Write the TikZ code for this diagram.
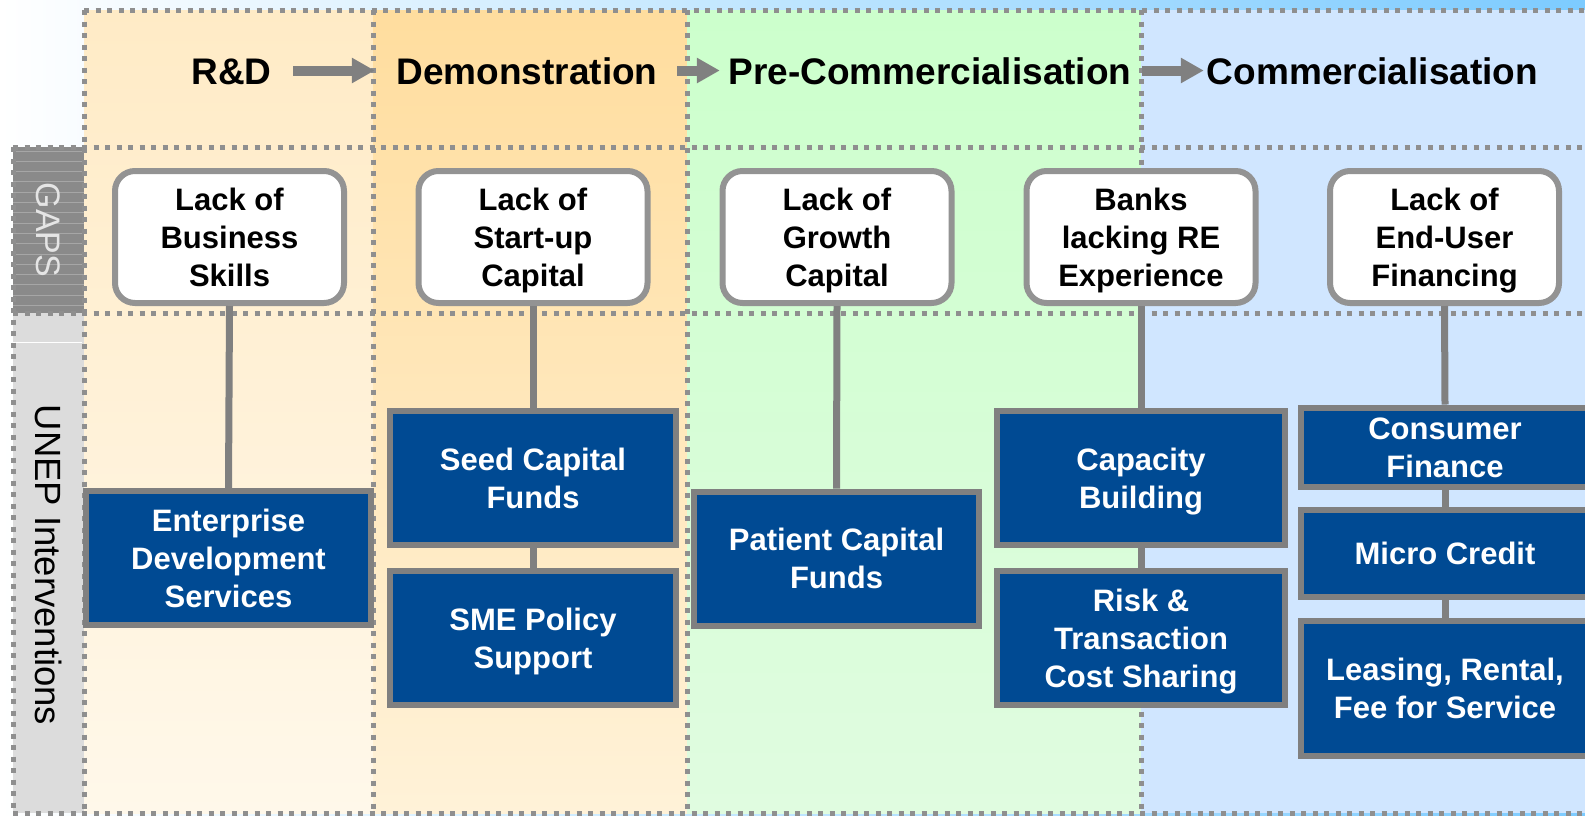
\documentclass[tikz,border=0pt]{standalone}
\usepackage{fontspec}
\setmainfont{Liberation Sans}
\usetikzlibrary{arrows.meta}
\definecolor{dotgray}{HTML}{8F8F8F}
\definecolor{linegray}{HTML}{808080}
\definecolor{gapborder}{HTML}{939393}
\definecolor{intblue}{HTML}{004A93}
\definecolor{bgblue}{HTML}{7CCBFF}
\definecolor{rdtop}{HTML}{FFEBC6}
\definecolor{rdbot}{HTML}{FFF8EA}
\definecolor{demotop}{HTML}{FFDD9E}
\definecolor{demobot}{HTML}{FFF2D8}
\definecolor{pretop}{HTML}{CCFFCC}
\definecolor{prebot}{HTML}{E0FCE0}
\definecolor{comfill}{HTML}{D0E6FF}
\definecolor{gapsfill}{HTML}{8A8A8A}
\definecolor{gapsline}{HTML}{A6A6A6}
\definecolor{unepfill}{HTML}{DCDCDC}
% #1 = number of lines after the first, #2 = lines separated by \\
\newcommand{\stacklines}[2]{\raisebox{0pt}[22.6pt][\dimexpr 37.7pt*#1\relax]{\begin{tabular}[t]{@{}c@{}}#2\end{tabular}}}
\tikzset{
  gridline/.style={draw=dotgray, line width=5pt, dash pattern=on 5pt off 6.5pt},
  headtext/.style={inner sep=0pt, text height=27pt, text depth=0pt,
    font=\fontsize{37}{40}\selectfont\bfseries},
  harrow/.style={draw=linegray, line width=10pt, -{Triangle[length=23pt,width=24pt]}},
  boxtext/.style={inner sep=0pt, font=\fontsize{31}{37.7}\selectfont\bfseries},
  gapbox/.style={boxtext, draw=gapborder, fill=white, line width=6pt, rounded corners=20pt,
    minimum width=229pt, minimum height=132pt},
  intbox/.style={boxtext, draw=linegray, fill=intblue, line width=6pt, text=white,
    minimum width=286pt, minimum height=134pt},
  conn/.style={draw=linegray, line width=7pt},
  sidelabel/.style={rotate=-90, inner sep=0pt}
}
\begin{document}
\begin{tikzpicture}[x=1pt,y=-1pt]
\useasboundingbox (0,0) rectangle (1585,815);
\begin{scope}
\clip (0,0) rectangle (1585,815);
% background
\shade[left color=white, right color=bgblue] (0,0) rectangle (1585,815);
% column fills
\shade[top color=rdtop, bottom color=rdbot] (84,10) rectangle (373,813);
\shade[top color=demotop, bottom color=demobot] (373,10) rectangle (687,813);
\shade[top color=pretop, bottom color=prebot] (687,10) rectangle (1141,813);
\fill[comfill] (1141,10) rectangle (1585,813);
% side label boxes
\fill[gapsfill] (13,147) rectangle (84,313);
\foreach \y in {151,161.3,...,311} \draw[gapsline, line width=1pt] (13,\y) -- (84,\y);
\fill[unepfill] (13,313) rectangle (84,813);
\draw[white, line width=1pt] (13,342) -- (82,342);
% dotted grid
\draw[gridline] (84,10) -- (1585,10);
\draw[gridline] (13,147) -- (1585,147);
\draw[gridline] (13,313) -- (1585,313);
\draw[gridline] (13,813) -- (1585,813);
\draw[gridline] (13,147) -- (13,813);
\foreach \x in {84,373,687,1141} \draw[gridline] (\x,10) -- (\x,813);
% side labels
\node[sidelabel, text=white!90!black, font=\fontsize{34}{36}\selectfont] (gapslabel) at (48.5,230) {GAPS};
\node[sidelabel, text=black, font=\fontsize{36.5}{38}\selectfont] (uneplabel) at (49,565) {UNEP Interventions};
% headers
\node[headtext] (h1) at (231.5,70.5) {R\&D};
\node[headtext] (h2) at (527,70.5) {Demonstration};
\node[headtext] (h3) at (930,70.5) {Pre-Commercialisation};
\node[headtext] (h4) at (1372.5,70.5) {Commercialisation};
\draw[harrow] ([xshift=21.5pt]h1.east) -- ([xshift=-21.5pt]h2.west);
\draw[harrow] ([xshift=19.5pt]h2.east) -- ([xshift=-8.5pt]h3.west);
\draw[harrow] ([xshift=10.5pt]h3.east) -- ([xshift=-3pt]h4.west);
% gap boxes
\node[gapbox] (g1) at (229.5,237) {\stacklines{2}{Lack of\\Business\\Skills}};
\node[gapbox] (g2) at (533,237) {\stacklines{2}{Lack of\\Start-up\\Capital}};
\node[gapbox] (g3) at (837,237) {\stacklines{2}{Lack of\\Growth\\Capital}};
\node[gapbox] (g4) at (1141,237) {\stacklines{2}{Banks\\lacking RE\\Experience}};
\node[gapbox] (g5) at (1444.5,237) {\stacklines{2}{Lack of\\End-User\\Financing}};
% intervention boxes
\node[intbox, minimum width=285pt] (i1) at (228.5,558) {\stacklines{2}{Enterprise\\Development\\Services}};
\node[intbox] (i2) at (533,478) {\stacklines{1}{Seed Capital\\Funds}};
\node[intbox] (i3) at (533,638) {\stacklines{1}{SME Policy\\Support}};
\node[intbox, minimum width=285pt] (i4) at (836.5,558.5) {\stacklines{1}{Patient Capital\\Funds}};
\node[intbox, minimum width=288pt] (i5) at (1141,478) {\stacklines{1}{Capacity\\Building}};
\node[intbox, minimum width=288pt] (i6) at (1141,638) {\stacklines{2}{Risk \&\\Transaction\\Cost Sharing}};
\node[intbox, minimum width=288pt, minimum height=79pt] (i7) at (1445,447) {\stacklines{1}{Consumer\\Finance}};
\node[intbox, minimum width=288pt, minimum height=87pt] (i8) at (1445,553) {\stacklines{0}{Micro Credit}};
\node[intbox, minimum width=288pt, minimum height=135pt] (i9) at (1445,688.5) {\stacklines{1}{Leasing, Rental,\\Fee for Service}};
% connectors
\draw[conn] (g1.south) -- (i1.north);
\draw[conn] (g2.south) -- (i2.north);
\draw[conn] (i2.south) -- (i3.north);
\draw[conn] (g3.south) -- (i4.north);
\draw[conn] (g4.south) -- (i5.north);
\draw[conn] (i5.south) -- (i6.north);
\draw[conn] (g5.south) -- (i7.north);
\draw[conn] (i7.south) -- (i8.north);
\draw[conn] (i8.south) -- (i9.north);
\end{scope}
\end{tikzpicture}
\end{document}
